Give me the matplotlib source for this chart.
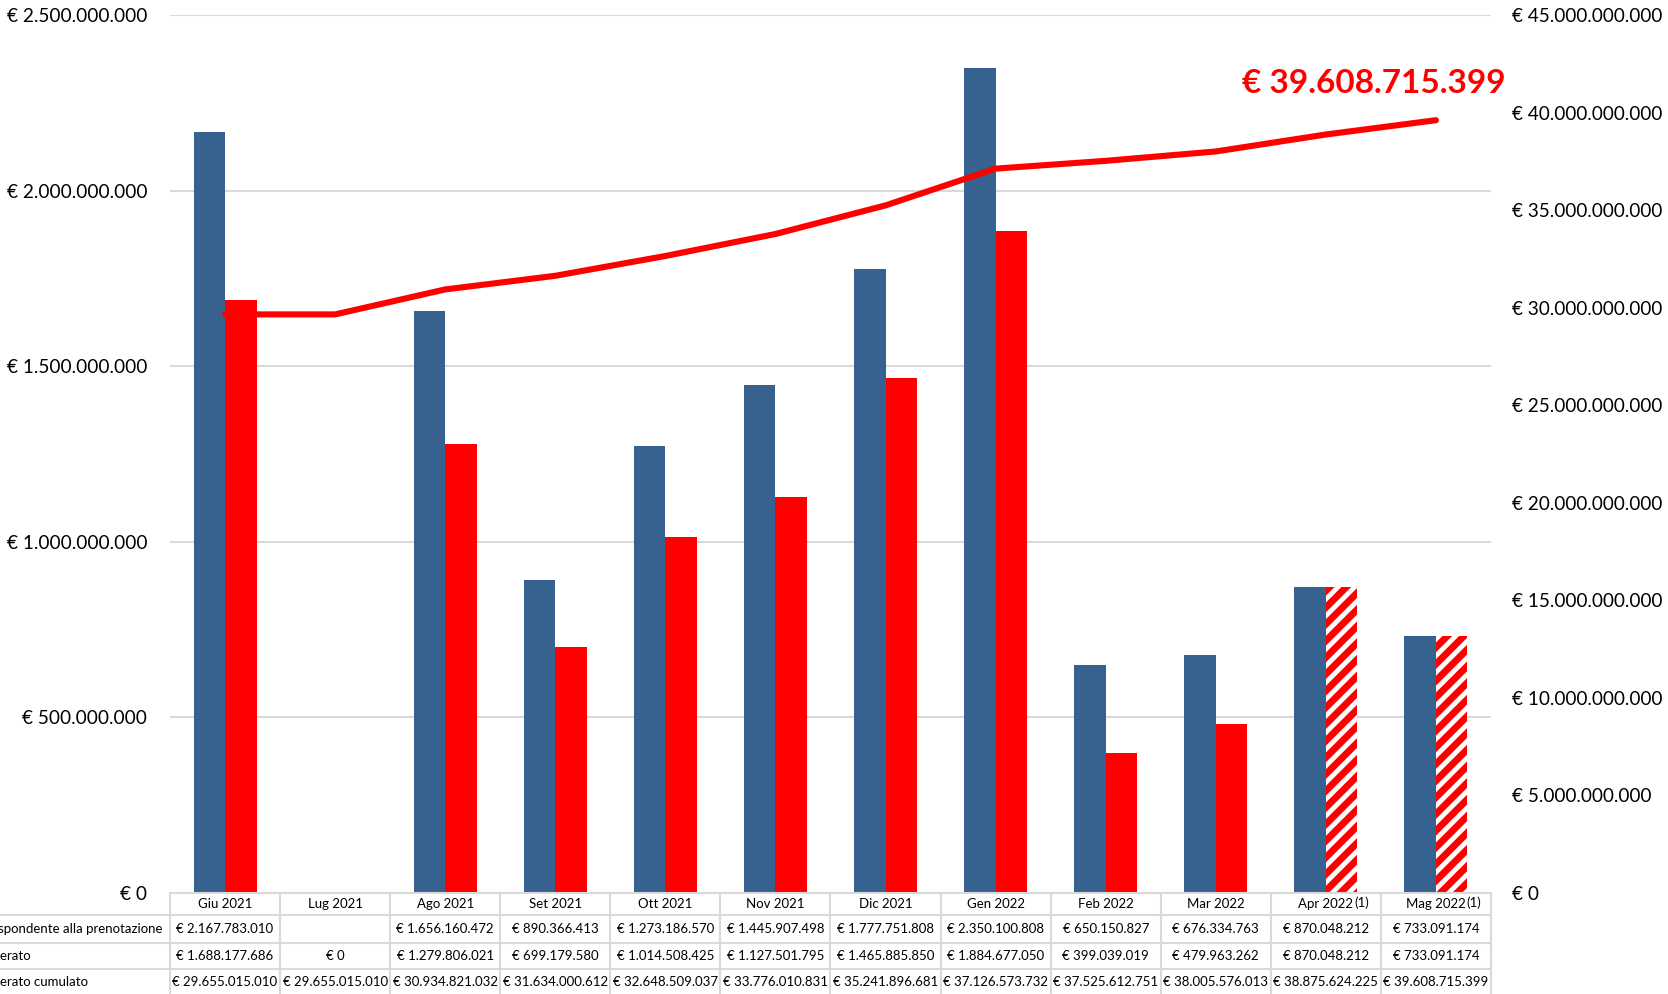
import numpy as np
import matplotlib
matplotlib.use('Agg')
from matplotlib import pyplot as plt
from matplotlib import transforms
from matplotlib.lines import Line2D
from matplotlib.ticker import FuncFormatter, MultipleLocator

plt.rcParams['font.family'] = ['Lato', 'DejaVu Sans']
plt.rcParams['hatch.linewidth'] = 5.0

mesi = ['Giu 2021', 'Lug 2021', 'Ago 2021', 'Set 2021', 'Ott 2021', 'Nov 2021',
        'Dic 2021', 'Gen 2022', 'Feb 2022', 'Mar 2022', 'Apr 2022', 'Mag 2022']
note = ['', '', '', '', '', '', '', '', '', '', '(1)', '(1)']
prenotazione = [2167783010, None, 1656160472, 890366413, 1273186570, 1445907498,
                1777751808, 2350100808, 650150827, 676334763, 870048212, 733091174]
deliberato = [1688177686, 0, 1279806021, 699179580, 1014508425, 1127501795,
              1465885850, 1884677050, 399039019, 479963262, 870048212, 733091174]
cumulato = [29655015010, 29655015010, 30934821032, 31634000612, 32648509037, 33776010831,
            35241896681, 37126573732, 37525612751, 38005576013, 38875624225, 39608715399]
righe = ['Importo corrispondente alla prenotazione', 'Importo deliberato',
         'Importo deliberato cumulato']

BLU = '#37618f'
ROSSO = '#ff0000'
GRIGIO = '#d9d9d9'
W, H = 1668, 994


def euro(v, pos=None):
    if v is None:
        return ''
    return '€ ' + f'{int(round(v)):,}'.replace(',', '.')


def fy(p):
    return 1 - p / H


fig = plt.figure(figsize=(W / 100, H / 100), dpi=100)
ax = fig.add_axes([170 / W, fy(893), (1491 - 170) / W, (893 - 15) / H])
ax2 = ax.twinx()

x = np.arange(len(mesi))
w = 0.286
blu = np.array([np.nan if v is None else v for v in prenotazione], dtype=float)
ax.bar(x - w / 2, blu, w, color=BLU, linewidth=0, zorder=2)
for i, v in enumerate(deliberato):
    if note[i]:
        ax.bar(x[i] + w / 2, v, w, facecolor='white', edgecolor=ROSSO, hatch='//',
               linewidth=0, zorder=2)
    else:
        ax.bar(x[i] + w / 2, v, w, color=ROSSO, linewidth=0, zorder=2)

ax2.plot(x, cumulato, color=ROSSO, lw=4.4, solid_capstyle='round', solid_joinstyle='round')
ax2.annotate(euro(cumulato[-1]), xy=(x[-1], cumulato[-1]), xytext=(-62, 27),
             textcoords='offset pixels', ha='center', va='baseline', color=ROSSO,
             fontsize=24, fontweight='bold')

ax.set_xlim(-0.5, len(mesi) - 0.5)
ax.set_ylim(0, 2.5e9)
ax2.set_ylim(0, 45e9)
ax.yaxis.set_major_locator(MultipleLocator(5e8))
ax2.yaxis.set_major_locator(MultipleLocator(5e9))
ax.yaxis.set_major_formatter(FuncFormatter(euro))
ax2.yaxis.set_major_formatter(FuncFormatter(euro))
ax.tick_params(axis='y', length=0, pad=16.5, labelsize=13.7, labelcolor='black')
ax2.tick_params(axis='y', length=0, pad=15, labelsize=13.6, labelcolor='black')
ax.set_xticks([])
ax.yaxis.grid(True, color=GRIGIO, lw=1.5, zorder=0)
ax.set_axisbelow(True)
for a in (ax, ax2):
    for s in a.spines.values():
        s.set_visible(False)

# tabella dati sotto il grafico
tr = transforms.blended_transform_factory(ax.transData, fig.transFigure)
for k in range(len(mesi) + 1):
    fig.add_artist(Line2D([k - 0.5, k - 0.5], [fy(893), fy(1000)], transform=tr,
                          color=GRIGIO, lw=1.5))
fig.add_artist(Line2D([-0.5, len(mesi) - 0.5], [fy(893), fy(893)], transform=tr,
                      color=GRIGIO, lw=1.5))
for yy in (915, 943, 969):
    fig.add_artist(Line2D([-4, len(mesi) - 0.5], [fy(yy), fy(yy)], transform=tr,
                          color=GRIGIO, lw=1.5))

fs = 9.5
for i, m in enumerate(mesi):
    t = fig.text(x[i], fy(904), m, transform=tr, ha='center', va='center', fontsize=fs)
    if note[i]:
        ax.annotate(note[i], xy=(1, 1), xycoords=t, xytext=(0.5, 1),
                    textcoords='offset points', ha='left', va='top', fontsize=fs,
                    annotation_clip=False)
    fig.text(x[i], fy(929), euro(prenotazione[i]), transform=tr, ha='center', va='center', fontsize=fs)
    fig.text(x[i], fy(956), euro(deliberato[i]), transform=tr, ha='center', va='center', fontsize=fs)
    fig.text(x[i], fy(982), euro(cumulato[i]), transform=tr, ha='center', va='center', fontsize=fs)

# etichette di riga: tagliate al bordo sinistro come nell'originale
t1 = fig.text(162 / W, fy(929), righe[0], ha='right', va='center', fontsize=fs)
bb = t1.get_window_extent(fig.canvas.get_renderer())
x0 = bb.x0 / fig.bbox.width
t1.set_ha('left')
t1.set_x(x0)
fig.text(x0, fy(956), righe[1], ha='left', va='center', fontsize=fs)
fig.text(x0, fy(982), righe[2], ha='left', va='center', fontsize=fs)

fig.savefig('out.png', dpi=100)
